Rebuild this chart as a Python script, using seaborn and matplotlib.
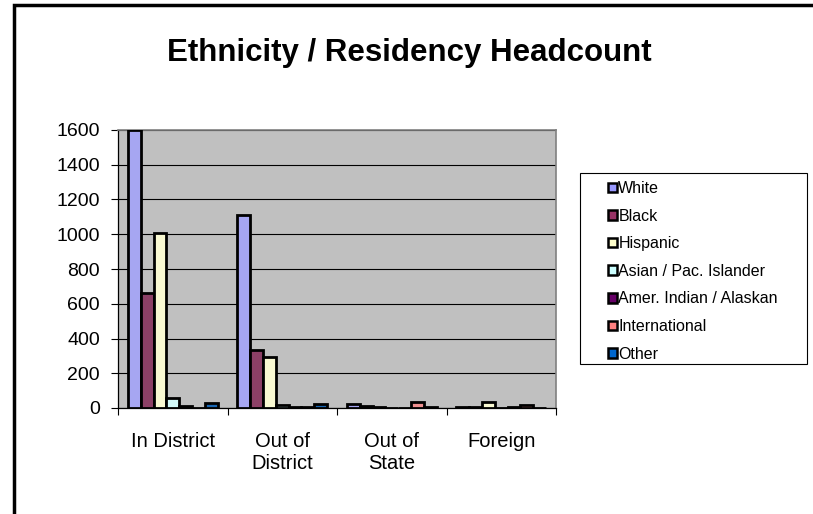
import pandas as pd
import matplotlib
matplotlib.use("Agg")
import matplotlib.pyplot as plt
import seaborn as sns
from matplotlib.patches import Patch, Rectangle
from matplotlib.ticker import MultipleLocator, FixedLocator

# data
residency = ["In District", "Out of\nDistrict", "Out of\nState", "Foreign"]
groups = ["White", "Black", "Hispanic", "Asian / Pac. Islander",
          "Amer. Indian / Alaskan", "International", "Other"]
white = [1598, 1112, 25, 6]
black = [661, 333, 12, 4]
hispanic = [1005, 291, 8, 34]
asian = [56, 15, 2, 2]
amer_indian = [12, 3, 2, 3]
international = [2, 5, 35, 15]
other = [30, 22, 3, 2]
colors = ["#9999FF", "#993366", "#FFFFCC", "#CCFFFF", "#660066", "#FF8080", "#0066CC"]

series = [white, black, hispanic, asian, amer_indian, international, other]
rows = []
for name, vals in zip(groups, series):
    for cat, v in zip(residency, vals):
        rows.append({"Residency": cat, "Group": name, "Headcount": v})
df = pd.DataFrame(rows)

sns.set_style("white")
plt.rcParams["font.family"] = ["Liberation Sans", "DejaVu Sans"]
plt.rcParams["text.color"] = "black"
plt.rcParams["xtick.color"] = "black"
plt.rcParams["ytick.color"] = "black"

fig = plt.figure(figsize=(8.13, 5.14), dpi=100)
ax = fig.add_axes([118 / 813, 106 / 514, 438 / 813, 278 / 514])
ax.set_facecolor("#C0C0C0")

sns.barplot(data=df, x="Residency", y="Headcount", hue="Group",
            order=residency, hue_order=groups, palette=colors,
            width=0.82, edgecolor="black", linewidth=2.0,
            legend=False, ax=ax, zorder=3)

ax.set_ylim(0, 1600)
ax.set_xlim(-0.5, 3.5)
ax.yaxis.set_major_locator(MultipleLocator(200))
ax.grid(axis="y", color="black", linewidth=0.8, zorder=0)
ax.set_axisbelow(True)
ax.set_xlabel("")
ax.set_ylabel("")

ax.tick_params(axis="y", direction="out", length=5, width=0.8,
               labelsize=14, pad=8, left=True)
ax.tick_params(axis="x", which="major", length=0, labelsize=14.5, pad=17)
ax.xaxis.set_minor_locator(FixedLocator([-0.5, 0.5, 1.5, 2.5, 3.5]))
ax.tick_params(axis="x", which="minor", direction="out", length=5, width=0.8,
               bottom=True)

for side in ["left", "bottom"]:
    ax.spines[side].set_color("black")
    ax.spines[side].set_linewidth(0.9)
for side in ["top", "right"]:
    ax.spines[side].set_color("#808080")
    ax.spines[side].set_linewidth(1.2)

fig.suptitle("Ethnicity / Residency Headcount", x=409 / 813, y=1 - 53 / 514,
             va="center", fontsize=22.5, fontweight="bold")

# legend box drawn separately so the padding matches the original
fig.add_artist(Rectangle((580 / 813, 1 - 364 / 514), 227 / 813, 191 / 514,
                         transform=fig.transFigure, facecolor="white",
                         edgecolor="black", linewidth=0.8))
handles = [Patch(facecolor=c, edgecolor="black", linewidth=1.8) for c in colors]
leg = fig.legend(handles, groups, loc="upper left",
                 bbox_to_anchor=(608 / 813, 1 - 181 / 514),
                 fontsize=11.5, frameon=False,
                 handlelength=0.55, handleheight=0.55, handletextpad=0.1,
                 labelspacing=0.79, borderpad=0, borderaxespad=0)

# outer chart border (top and left edges visible)
fig.add_artist(Rectangle((14 / 813, -0.2), 1.2, 1.2 - 5 / 514,
                         transform=fig.transFigure, fill=False,
                         edgecolor="black", linewidth=2.5))

fig.savefig("out.png", dpi=100)
